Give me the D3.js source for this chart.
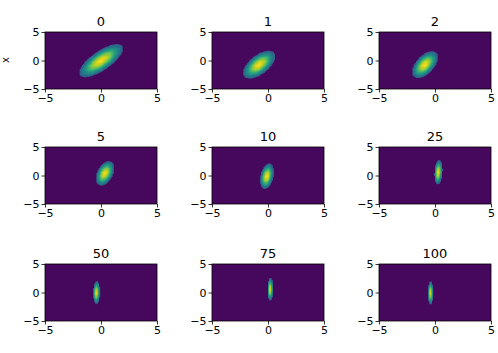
<!DOCTYPE html>
<html><head><meta charset="utf-8">
<script src="https://cdn.jsdelivr.net/npm/d3@7"></script>
<style>
html,body{margin:0;padding:0;background:#fff;}
svg{display:block;}
text{font-family:"DejaVu Sans",sans-serif;fill:#000;}
</style></head>
<body>
<svg id="c" width="498" height="353"></svg>
<script>
// Panel titles (iteration numbers)
const titles = ["0","1","2","5","10","25","50","75","100"];
// Gaussian parameters
const meanX = [0.0, -0.8, -0.9, 0.35, -0.1, 0.3, -0.4, 0.2, -0.4];
const meanY = [0.0, -0.7, -0.7, 0.4, -0.1, 0.6, 0.0, 0.6, -0.05];
const sdX   = [0.82, 0.6, 0.48, 0.34, 0.25, 0.15, 0.12, 0.1, 0.09];
const sdY   = [1.22, 1.02, 0.98, 0.9, 0.93, 0.9, 0.84, 0.84, 0.86];
const rho   = [0.74, 0.6, 0.55, 0.42, 0.32, 0.18, 0.08, 0.05, 0.05];
const tickValues = [-5, 0, 5];
const domain = [-5, 5];

const colLeft = [45, 212, 379];
const rowTop = [32, 147, 264];
const W = 112, H = 57;
const step = 0.1, cutoff = 5.5;

const svg = d3.select("#c");
const color = t => d3.interpolateViridis(t);
const fmt = d => (d < 0 ? "\u2212" + Math.abs(d) : String(d));

titles.forEach((t, i) => {
  const r = Math.floor(i / 3), c = i % 3;
  const g = svg.append("g").attr("transform", `translate(${colLeft[c]},${rowTop[r]})`);
  const x = d3.scaleLinear().domain(domain).range([0, W]);
  const y = d3.scaleLinear().domain(domain).range([H, 0]);
  g.append("rect").attr("width", W).attr("height", H).attr("fill", color(0.02));
  // density cells
  const cells = [];
  const sx = sdX[i], sy = sdY[i], p = rho[i];
  for (let gx = domain[0]; gx < domain[1] - 1e-9; gx += step) {
    for (let gy = domain[0]; gy < domain[1] - 1e-9; gy += step) {
      const cx = (gx + step / 2 - meanX[i]) / sx;
      const cy = (gy + step / 2 - meanY[i]) / sy;
      const m2 = (cx * cx - 2 * p * cx * cy + cy * cy) / (1 - p * p);
      if (m2 < cutoff) cells.push({x: gx, y: gy, v: Math.exp(-0.5 * m2)});
    }
  }
  g.append("g").selectAll("rect").data(cells).join("rect")
    .attr("x", d => x(d.x))
    .attr("y", d => y(d.y + step))
    .attr("width", x(step) - x(0) + 0.3)
    .attr("height", y(0) - y(step) + 0.3)
    .attr("fill", d => color(Math.pow(d.v, 0.42)));
  // frame
  g.append("rect").attr("width", W).attr("height", H)
    .attr("fill", "none").attr("stroke", "#000").attr("stroke-width", 0.8);
  const xa = g.append("g").attr("transform", `translate(0,${H})`)
    .call(d3.axisBottom(x).tickValues(tickValues).tickFormat(fmt).tickSize(3.5).tickPadding(2));
  const ya = g.append("g")
    .call(d3.axisLeft(y).tickValues(tickValues).tickFormat(fmt).tickSize(3.5).tickPadding(2));
  [xa, ya].forEach(a => {
    a.select(".domain").remove();
    a.selectAll("line").attr("stroke", "#000").attr("stroke-width", 0.8);
    a.selectAll("text").attr("font-size", 11).attr("font-family", "DejaVu Sans").attr("fill", "#000");
  });
  g.append("text").attr("x", W / 2).attr("y", -6).attr("text-anchor", "middle")
    .attr("font-size", 13).text(t);
});

svg.append("text").attr("transform", "translate(9,60) rotate(-90)")
  .attr("text-anchor", "middle").attr("font-size", 10).attr("fill", "#333").text("x");
svg.append("text").attr("x", 435).attr("y", 359)
  .attr("text-anchor", "middle").attr("font-size", 10).attr("fill", "#555").text("y");
</script>
</body></html>
